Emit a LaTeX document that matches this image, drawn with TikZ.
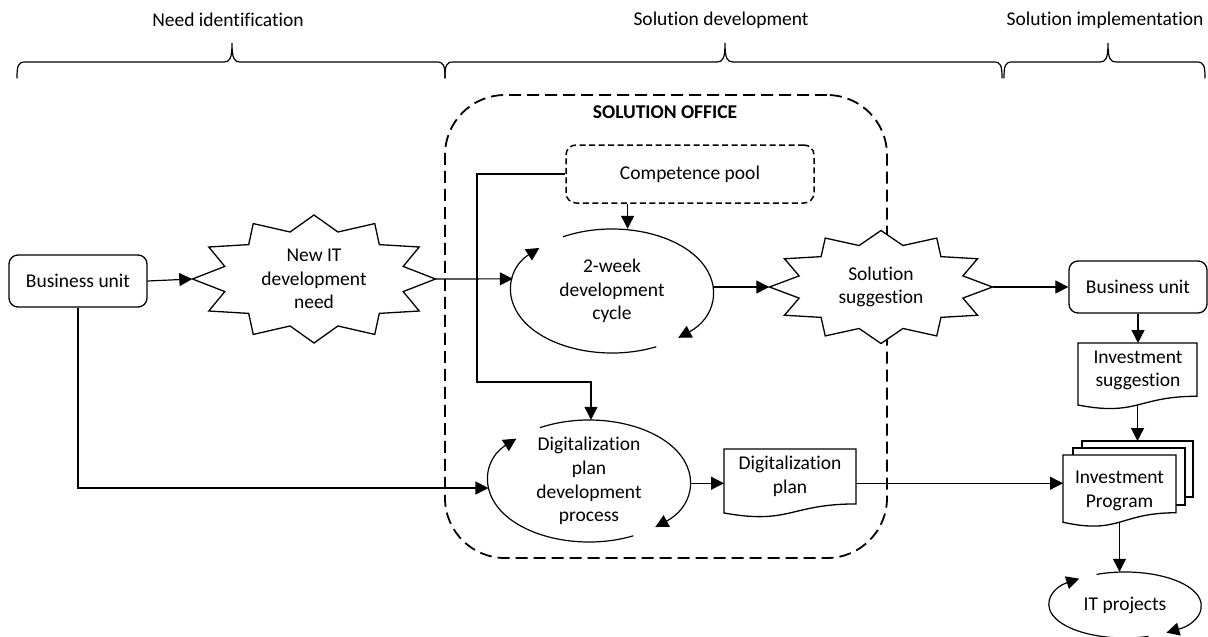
\documentclass[tikz,border=0pt]{standalone}
\usepackage{fontspec}
\setmainfont{Carlito}[Ligatures=NoCommon]
\usetikzlibrary{arrows.meta,calc,shapes.geometric}
\pgfdeclarelayer{bg}
\pgfsetlayers{bg,main}

% twelve-point burst fitted to the ellipse of node #1 (radii #2, #3)
\newcommand\burst[3]{%
  \draw[shapeline, fill=white] ($(#1.center)+(0:#2 and #3)$)
    \foreach \a in {15,30,...,345}{
      -- ($(#1.center)+(\a:{#2*(mod(\a,30)==0?1:0.76)} and {#3*(mod(\a,30)==0?1:0.76)})$)
    } -- cycle;}

% document frame with a wavy lower edge around node #1
\newcommand\docframe[1]{%
  \draw[shapeline, fill=white] (#1.north west) -- (#1.north east)
    -- ($(#1.north east)!0.802!(#1.south east)$)
    .. controls ($(#1.north)!0.802!(#1.south)$) and ($(#1.north)!1.1075!(#1.south)$)
    .. ($(#1.north west)!0.934!(#1.south west)$) -- cycle;}

% two open arcs with arrow tips forming a cycle around node #1
\newcommand\cyclearcs[7]{%
  \draw[arr] ($(#1.center)+(#4:#2 and #3)$) arc[start angle=#4, end angle=#5, x radius=#2, y radius=#3];
  \draw[arr] ($(#1.center)+(#6:#2 and #3)$) arc[start angle=#6, end angle=#7, x radius=#2, y radius=#3];}

% curly brace over a phase: left end, tip, right end
\newcommand\phasebrace[3]{%
  \draw[brace] (#1,78) .. controls (#1,66) and (#1+1,62) .. (#1+8,62) -- (#2-8,62)
    .. controls (#2-2,62) and (#2,58) .. (#2,43)
    .. controls (#2,58) and (#2+2,62) .. (#2+8,62) -- (#3-8,62)
    .. controls (#3-1,62) and (#3,66) .. (#3,78);}

\begin{document}
\begin{tikzpicture}[x=1pt, y=-1pt,
  txt/.style={font=\fontsize{19.5}{23.7}\selectfont, align=center, inner sep=0pt},
  shapeline/.style={line width=1.3pt},
  box/.style={txt, draw, shapeline, rounded corners=9pt, minimum width=138pt, minimum height=52pt},
  burstnode/.style={txt, ellipse},
  cyc/.style={txt, ellipse, inner sep=-8pt},
  docnode/.style={rectangle, inner sep=0pt, outer sep=0pt},
  page/.style={docnode, draw, fill=white, shapeline},
  arr/.style={-{Triangle[length=13pt,width=13pt]}, line width=1.2pt},
  brace/.style={line width=1.2pt, line cap=round},
  office/.style={draw, dash pattern=on 12pt off 6pt, line width=1.8pt, rounded corners=60pt, inner sep=0pt},
  poolbox/.style={txt, draw, dash pattern=on 6pt off 3.5pt, line width=1.5pt, rounded corners=10pt}]
\useasboundingbox (0,0) rectangle (1208,637);

% phases
\node[txt] (ph1) at (228,20) {Need identification};
\node[txt] (ph2) at (721,20) {Solution development};
\node[txt] (ph3) at (1105,20) {Solution implementation};
\phasebrace{17}{232}{445}
\phasebrace{445}{725}{1002}
\phasebrace{1004}{1108}{1205}

% solution office container
\begin{pgfonlayer}{bg}
  \node[office, minimum width=442pt, minimum height=463pt] (office) at (666,326.5) {};
\end{pgfonlayer}
\node[txt, font=\fontsize{19.5}{23.7}\selectfont\bfseries] (officelabel) at (665,112) {SOLUTION OFFICE};

% nodes
\node[box] (bu1) at (78,281) {Business unit};
\node[burstnode, minimum width=243pt, minimum height=128pt] (need) at (314,279) {New IT\\development\\need};
\node[poolbox, minimum width=248pt, minimum height=58pt] (pool) at (690,174) {Competence pool};
\node[cyc, minimum width=202pt, minimum height=124pt] (dev) at (612,291) {2-week\\development\\cycle};
\node[burstnode, minimum width=223pt, minimum height=113pt] (sugg) at (881,287) {Solution\\suggestion};
\node[box] (bu2) at (1138,287) {Business unit};
\node[docnode, minimum width=119pt, minimum height=66.4pt] (isugg) at (1137.5,376.2) {};
\node[txt] (isuggt) at (1138,370.5) {Investment\\suggestion};
\node[cyc, minimum width=202pt, minimum height=122pt] (dplan) at (589,481) {Digitalization\\plan\\development\\process};
\node[docnode, minimum width=132pt, minimum height=68.5pt] (doc) at (790,483.25) {};
\node[txt] (doct) at (790,476) {Digitalization\\plan};
\node[cyc, minimum width=152pt, minimum height=66pt] (itp) at (1125,605) {IT projects};

% frames behind the texts
\begin{pgfonlayer}{bg}
  \burst{need}{121.5}{64}
  \burst{sugg}{111.5}{56.5}
  \docframe{isugg}
  \docframe{doc}
  \node[page, minimum width=111pt, minimum height=56pt] (ipb) at (1137.5,469) {};
  \node[page, minimum width=112pt, minimum height=57pt] (ipm) at (1129,476.5) {};
\end{pgfonlayer}
\node[docnode, txt, minimum width=113pt, minimum height=72pt] (ip) at (1119.5,491) {Investment\\Program};
\begin{pgfonlayer}{bg}
  \docframe{ip}
\end{pgfonlayer}

% cycles
\cyclearcs{dev}{101}{62}{64}{224}{-119}{49}
\cyclearcs{dplan}{101}{61}{64}{224}{-119}{49}
\cyclearcs{itp}{76}{33}{72}{233}{-112}{57}

% connectors
\draw[arr] (bu1.east) -- (need.west);
\draw[arr] (need.east) -- (dev.173);
\coordinate (poolout) at ($(pool.south west)!0.25!(pool.south east)$);
\draw[arr] (poolout) -- (poolout |- dev.north);
\draw[arr] (pool.west) -| (477,382) -| ([xshift=2pt]dplan.north);
\draw[arr] (dev.east |- sugg.west) -- (sugg.west);
\draw[arr] (sugg.east) -- (bu2.west);
\draw[arr] (bu2.south) -- (bu2.south |- isugg.north);
\coordinate (isuggout) at ($(isugg.north)!0.933!(isugg.south)$);
\draw[arr] (isuggout) -- (isuggout |- ipb.north);
\coordinate (ipout) at ($(ip.north)!0.933!(ip.south)$);
\draw[arr] (ipout) -- (ipout |- itp.north);
\draw[arr] (bu1.south) |- (dplan.184);
\draw[arr] (dplan.east |- doc.west) -- (doc.west);
\draw[arr] (doc.east) -- (doc.east -| ip.west);
\end{tikzpicture}
\end{document}
